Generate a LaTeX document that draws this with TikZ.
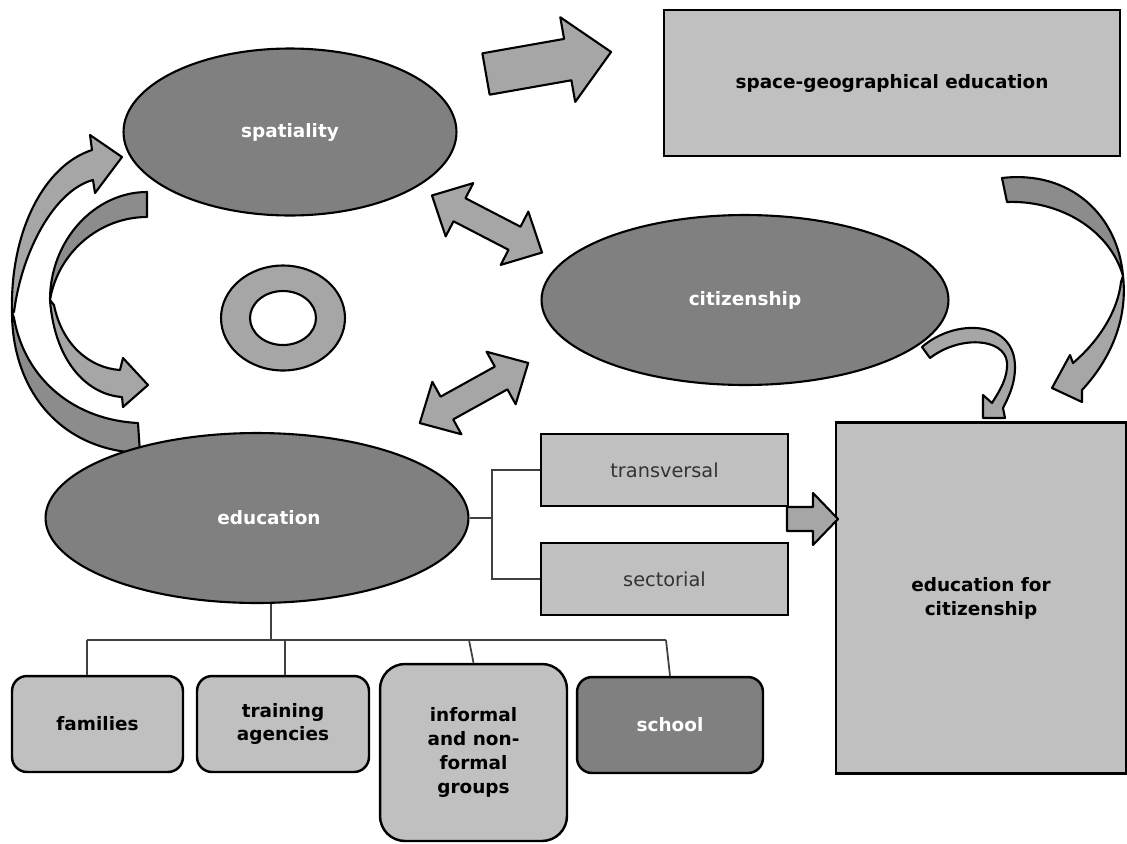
\documentclass[tikz,border=0pt]{standalone}
\usepackage{fontspec}
\setmainfont{DejaVu Sans}
\usetikzlibrary{shapes.geometric,positioning}

\definecolor{ovalgray}{HTML}{808080}
\definecolor{boxgray}{HTML}{C0C0C0}
\definecolor{arrowgray}{HTML}{A6A6A6}
\definecolor{backgray}{HTML}{8C8C8C}
\definecolor{linegray}{HTML}{404040}

\begin{document}
\begin{tikzpicture}[x=0.02cm,y=-0.02cm,
  oval/.style={ellipse,draw,line width=1.2pt,fill=ovalgray,text=white,
    font=\fontsize{10.5}{12.5}\selectfont\bfseries,inner sep=0pt},
  plainbox/.style={rectangle,draw,line width=1.4pt,fill=boxgray,
    font=\fontsize{10.5}{13.6}\selectfont\bfseries,align=center,inner sep=0pt},
  kindbox/.style={rectangle,draw,line width=1.4pt,fill=boxgray,text=black!80,
    font=\fontsize{11}{13}\selectfont,minimum width=4.94cm,minimum height=1.45cm},
  groupbox/.style={rectangle,rounded corners=0.3cm,draw,line width=1.4pt,
    fill=boxgray,font=\fontsize{10.5}{13.6}\selectfont\bfseries,align=center,
    inner sep=0pt},
  treeline/.style={draw=linegray,line width=1pt},
  blockarrow/.style={draw,line width=1.2pt,fill=arrowgray,line join=round},
  backarrow/.style={draw,line width=1.2pt,fill=backgray,line join=round}]

\fill[white] (0,0) rectangle (1127,843);
\useasboundingbox (0,0) rectangle (1127,843);

% curved arrows on the left
\filldraw[backarrow] (12,312) .. controls (12,390) and (60,450) .. (140,453)
  -- (138,423) .. controls (75,420) and (25,380) .. (14,318) -- cycle;
\filldraw[blockarrow] (12,312) .. controls (10,230) and (45,165) .. (92,150)
  -- (90,135) -- (122,157) -- (95,193) -- (93,180)
  .. controls (55,190) and (22,250) .. (14,312) -- cycle;
\filldraw[backarrow] (147,192) .. controls (95,192) and (50,240) .. (50,300)
  .. controls (58,252) and (100,217) .. (147,217) -- cycle;
\filldraw[blockarrow] (50,300) .. controls (55,365) and (90,395) .. (122,397)
  -- (123,407) -- (148,385) -- (123,358) -- (120,370)
  .. controls (90,368) and (62,345) .. (54,305) -- cycle;

% curved arrows on the right
\filldraw[backarrow] (1002,178) .. controls (1070,170) and (1118,215) .. (1123,276)
  .. controls (1110,230) and (1060,200) .. (1007,202) -- cycle;
\filldraw[blockarrow] (1123,276) .. controls (1128,320) and (1110,360) .. (1082,390)
  -- (1082,402) -- (1052,388) -- (1070,355) -- (1073,363)
  .. controls (1100,340) and (1118,310) .. (1121,282) -- cycle;
\filldraw[blockarrow] (922,347) .. controls (955,318) and (1015,320) .. (1015,367)
  .. controls (1015,385) and (1008,398) .. (1003,408)
  -- (1005,418) -- (983,418) -- (983,395) -- (992,403)
  .. controls (1000,390) and (1008,378) .. (1007,362)
  .. controls (1004,338) and (960,335) .. (930,358) -- cycle;

% straight block arrows
\begin{scope}[shift={(486,74)},rotate=10]
  \filldraw[blockarrow] (0,-21) -- (83,-21) -- (83,-43) -- (127,0)
    -- (83,43) -- (83,21) -- (0,21) -- cycle;
\end{scope}
\begin{scope}[shift={(487,224)},rotate=-27.4]
  \filldraw[blockarrow] (-62,0) -- (-31,-30) -- (-31,-13) -- (31,-13) -- (31,-30)
    -- (62,0) -- (31,30) -- (31,13) -- (-31,13) -- (-31,30) -- cycle;
\end{scope}
\begin{scope}[shift={(474,393)},rotate=29]
  \filldraw[blockarrow] (-62,0) -- (-31,-30) -- (-31,-13) -- (31,-13) -- (31,-30)
    -- (62,0) -- (31,30) -- (31,13) -- (-31,13) -- (-31,30) -- cycle;
\end{scope}

% ring
\filldraw[blockarrow,even odd rule] (283,318) ellipse (1.24cm and 1.05cm)
  (283,318) ellipse (0.66cm and 0.54cm);

% main ideas
\node[oval,minimum width=6.66cm,minimum height=3.34cm] (spat) at (290,132) {spatiality};
\node[oval,minimum width=8.14cm,minimum height=3.4cm] (citz) at (745,300) {citizenship};
\node[oval,minimum width=8.46cm,minimum height=3.4cm] (edu) at (257,518)
  {\hspace{0.48cm}education};

\node[plainbox,minimum width=9.12cm,minimum height=2.92cm] (geo) at (892,83)
  {space-geographical education};
\node[plainbox,minimum width=5.8cm,minimum height=7.02cm] (efc) at (981,598)
  {education for\\citizenship};

\node[kindbox] (trans) at (664.5,470) {transversal};
\node[kindbox] (sect) at (664.5,579) {sectorial};

\filldraw[blockarrow] (787,507) -- (813,507) -- (813,493) -- (838,519)
  -- (813,545) -- (813,531) -- (787,531) -- cycle;

% places of education
\node[groupbox,minimum width=3.42cm,minimum height=1.92cm] (fam) at (97.5,724) {families};
\node[groupbox,minimum width=3.44cm,minimum height=1.92cm] (train) at (283,724)
  {training\\agencies};
\node[groupbox,rounded corners=0.5cm,minimum width=3.74cm,minimum height=3.54cm]
  (inf) at (473.5,752.5) {informal\\and non-\\formal\\groups};
\node[groupbox,fill=ovalgray,text=white,minimum width=3.72cm,minimum height=1.92cm]
  (school) at (670,725) {school};

% tree
\coordinate (hub) at (271,640);
\coordinate (b1) at (87,640);
\coordinate (b2) at (285,640);
\coordinate (b3) at (469,640);
\coordinate (b4) at (666,640);
\coordinate (fork) at (492,518);
\draw[treeline] (hub |- edu.south) -- (hub);
\draw[treeline] (b1) -- (b4);
\draw[treeline] (b1) -- (b1 |- fam.north);
\draw[treeline] (b2) -- (b2 |- train.north);
\draw[treeline] (b3) -- (inf.north);
\draw[treeline] (b4) -- (school.north);
\draw[treeline] (edu.east) -- (fork);
\draw[treeline] (trans.west) -| (fork) |- (sect.west);
\end{tikzpicture}
\end{document}
